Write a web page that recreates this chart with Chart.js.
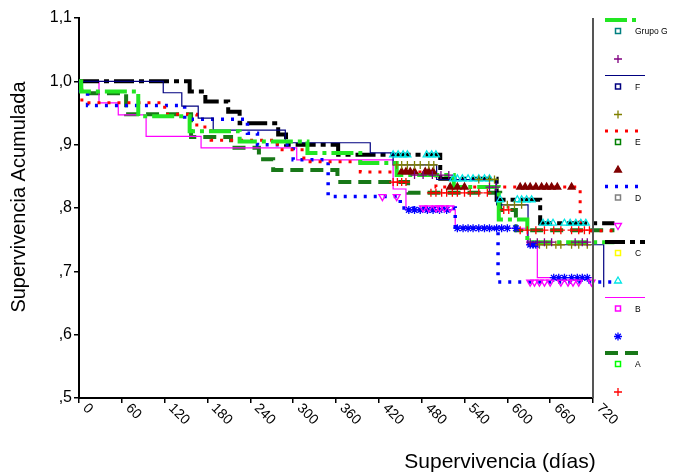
<!DOCTYPE html>
<html><head><meta charset="utf-8">
<script src="https://cdn.jsdelivr.net/npm/chart.js@4.4.1/dist/chart.umd.min.js"></script>
<style>html,body{margin:0;padding:0;background:#fff}#wrap{position:relative;width:674px;height:472px}canvas{display:block}</style>
</head><body><div id="wrap"><canvas id="c" width="674" height="472"></canvas></div>
<script>
// ---- axis ticks ----
const xTickValues = [0,60,120,180,240,300,360,420,480,540,600,660,720];
const xTickLabels = ['0','60','120','180','240','300','360','420','480','540','600','660','720'];
const yTickValues = [0.5,0.6,0.7,0.8,0.9,1.0,1.1];
const yTickLabels = [',5',',6',',7',',8',',9','1,0','1,1'];
const xTitle = 'Supervivencia (días)';
const yTitle = 'Supervivencia Acumulada';

// ---- Kaplan-Meier step curves: event times (días) and survival after each step ----
const groupNames = ['G','F','E','D','C','B','A'];
const legendLabels = ['Grupo G','F','E','D','C','B','A'];

const timesG = [0,3,83,155,225,320,394,445,525,588,628,750];
const survG  = [1.0,0.984,0.945,0.921,0.905,0.887,0.871,0.852,0.833,0.782,0.746,0.746];
const censG  = [470,482,495,507,518,575,584,632,642,652,662,695,705,712];

const timesF = [0,118,144,167,188,289,408,440,501,585,629,735,750];
const survF  = [1.0,0.982,0.961,0.942,0.923,0.903,0.887,0.868,0.845,0.805,0.742,0.675,0.675];
const censF  = [445,452,460,470,478,490,497,560,575,582,600,610,620,645,655,668,675,690,700,712];

const timesE = [0,4,120,165,185,278,315,394,500,702,750];
const survE  = [1.0,0.966,0.948,0.928,0.907,0.892,0.873,0.857,0.833,0.764,0.764];
const censE  = [452,458,464,470,485,490,496,520,530,540,618,625,632,640,648,655,662,670,690];

const timesD = [0,2,12,148,236,250,300,349,450,527,587,750];
const survD  = [1.0,0.985,0.962,0.940,0.918,0.900,0.876,0.818,0.800,0.768,0.683,0.683];
const censD  = [425,445,482,490,500,505,512,520,632,638,645,652,660,675,685,692,700,718];

const timesC = [0,155,177,209,225,279,290,363,506,585,646,750];
const survC  = [1.0,0.984,0.968,0.952,0.934,0.916,0.900,0.884,0.846,0.813,0.776,0.776];
const censC  = [440,447,454,460,487,494,500,524,530,537,545,552,560,568,575,590,614,620,627,634,650,657,664,680,688,696,703,710];

const timesB = [0,28,55,94,171,305,440,458,527,628,642,720,748];
const survB  = [1.0,0.966,0.947,0.913,0.895,0.876,0.830,0.797,0.768,0.742,0.690,0.607,0.607];
const censB  = [462,470,478,488,496,505,515,530,538,545,552,560,568,575,585,592,600,612,632,636,640,665,672,680,690,698,705,712];

const timesA = [0,3,66,157,213,252,272,362,461,590,612,750];
const survA  = [1.0,0.981,0.948,0.912,0.895,0.877,0.860,0.841,0.824,0.797,0.765,0.765];
const censA  = [440,446,452,458,493,500,508,515,523,530,540,548,560,572,595,602,618,628,640,652,665,675,690,700,708,715];

const seriesData = {
  G:[timesG,survG,censG], F:[timesF,survF,censF], E:[timesE,survE,censE], D:[timesD,survD,censD],
  C:[timesC,survC,censC], B:[timesB,survB,censB], A:[timesA,survA,censA]
};

// ---- styles ----
const styles = {
  G:{color:'#22e622', width:4,   dash:[22,5,4,5], mark:'cross',    mColor:'#800080', mFill:'rgba(0,0,0,0)', rot:0,   sq:'#008080', lineEnd:640},
  F:{color:'#000080', width:1.2, dash:[],         mark:'cross',    mColor:'#808000', mFill:'rgba(0,0,0,0)', rot:0,   sq:'#000080', lineEnd:645},
  E:{color:'#ff0000', width:3,   dash:[3,7],      mark:'triangle', mColor:'#800000', mFill:'#800000',       rot:0,   sq:'#008000', lineEnd:640},
  D:{color:'#0000ff', width:3.5, dash:[3,7],      mark:'triangle', mColor:'#ff00ff', mFill:'rgba(0,0,0,0)', rot:180, sq:'#808080', lineEnd:640},
  C:{color:'#000000', width:4,   dash:[20,5,5,5], mark:'triangle', mColor:'#00e5e5', mFill:'rgba(0,0,0,0)', rot:0,   sq:'#ffff00', lineEnd:645},
  B:{color:'#ff00ff', width:1.2, dash:[],         mark:'star',     mColor:'#0000ff', mFill:'rgba(0,0,0,0)', rot:0,   sq:'#ff00ff', lineEnd:645},
  A:{color:'#187818', width:4,   dash:[13,7],     mark:'cross',    mColor:'#ff0000', mFill:'rgba(0,0,0,0)', rot:0,   sq:'#00ff00', lineEnd:640}
};

function stepAt(t, ts, ss){ let v = ss[0]; for(let i=0;i<ts.length;i++){ if(ts[i] <= t) v = ss[i]; } return v; }

const markerSets = [], lineSets = [];
groupNames.forEach(g => {
  const [ts, ss, cs] = seriesData[g];
  const st = styles[g];
  lineSets.push({
    label: g, data: ts.map((t,i)=>({x:t,y:ss[i]})), stepped:'before',
    borderColor: st.color, borderWidth: st.width, borderDash: st.dash, borderCapStyle:'butt',
    pointRadius:0, fill:false, clip:false, order:2
  });
  markerSets.push({
    label: g+'-c', data: cs.map(t=>({x:t,y:stepAt(t,ts,ss)})), showLine:false,
    pointStyle: st.mark, pointRadius: 4, pointRotation: st.rot,
    pointBorderColor: st.mColor, pointBackgroundColor: st.mFill, pointBorderWidth: 1.3, clip:false, order:1
  });
});

const extras = {
  id:'extras',
  afterDraw(chart){
    const ctx = chart.ctx, xs = chart.scales.x, ys = chart.scales.y, ca = chart.chartArea;
    ctx.save();
    // right frame line
    ctx.strokeStyle = '#555'; ctx.lineWidth = 2; ctx.setLineDash([]);
    ctx.beginPath(); ctx.moveTo(xs.getPixelForValue(720), ys.getPixelForValue(1.1)); ctx.lineTo(xs.getPixelForValue(720), ys.getPixelForValue(0.5)); ctx.stroke();
    // x tick labels, rotated clockwise
    ctx.fillStyle = '#000'; ctx.font = '14px "Liberation Sans", Arial, sans-serif';
    ctx.textAlign = 'left'; ctx.textBaseline = 'top';
    xTickValues.forEach((v,i)=>{
      const px = xs.getPixelForValue(v);
      ctx.save(); ctx.translate(px+11, ca.bottom+3); ctx.rotate(Math.PI/4); ctx.fillText(xTickLabels[i],0,0); ctx.restore();
    });
    // titles
    ctx.font = '21px "Liberation Sans", Arial, sans-serif'; ctx.textAlign='center'; ctx.textBaseline='middle';
    ctx.fillText(xTitle, 500, 462);
    ctx.save(); ctx.translate(19, 197); ctx.rotate(-Math.PI/2);
    ctx.font = '20px "Liberation Sans", Arial, sans-serif'; ctx.fillText(yTitle, 0, 0); ctx.restore();
    // legend
    legendLabels.forEach((lab,k)=>{
      const g = groupNames[k], st = styles[g];
      const yl = 20 + k*55.5, yq = 31 + k*55.5, ym = 59 + k*55.5;
      ctx.save();
      ctx.strokeStyle = st.color; ctx.lineWidth = st.width; ctx.setLineDash(st.dash); ctx.lineCap='butt';
      ctx.beginPath(); ctx.moveTo(605, yl); ctx.lineTo(st.lineEnd, yl); ctx.stroke();
      ctx.setLineDash([]);
      ctx.strokeStyle = st.sq; ctx.lineWidth = 1.5; ctx.strokeRect(615.5, yq-2.5, 5, 5);
      ctx.fillStyle = '#000'; ctx.font = '8.5px "Liberation Sans", Arial, sans-serif';
      ctx.textAlign='left'; ctx.textBaseline='middle'; ctx.fillText(lab, 635, yq+1);
      ctx.strokeStyle = st.mColor; ctx.fillStyle = st.mFill; ctx.lineWidth = 1.3;
      Chart.helpers.drawPoint(ctx, {pointStyle: st.mark, rotation: st.rot, radius: 4, borderWidth: 1.3}, 618, ym);
      ctx.restore();
    });
    ctx.restore();
  }
};

new Chart(document.getElementById('c'), {
  type:'line',
  data:{ datasets: [...markerSets, ...lineSets] },
  options:{
    responsive:false, animation:false, devicePixelRatio:1, events:[],
    layout:{ padding:{ top:18, right:81, left:0, bottom:0 } },
    plugins:{ legend:{display:false}, tooltip:{enabled:false} },
    scales:{
      x:{ type:'linear', min:0, max:720,
          afterBuildTicks(s){ s.ticks = xTickValues.map(v=>({value:v})); },
          afterFit(s){ s.height = 74; },
          ticks:{ display:false },
          grid:{ display:true, drawOnChartArea:false, drawTicks:true, tickLength:5, color:'#000', lineWidth:1.5 },
          border:{ display:true, color:'#000', width:2 } },
      y:{ type:'linear', min:0.5, max:1.1,
          afterBuildTicks(s){ s.ticks = yTickValues.map(v=>({value:v})); },
          afterFit(s){ s.width = 79; },
          ticks:{ padding:2, color:'#000', font:{ family:'"Liberation Sans", Arial, sans-serif', size:16 },
                  callback:(v,i)=>yTickLabels[i] },
          grid:{ display:true, drawOnChartArea:false, drawTicks:true, tickLength:5, color:'#000', lineWidth:1.5 },
          border:{ display:true, color:'#000', width:2 } }
    }
  },
  plugins:[extras]
});
</script>
</body></html>
